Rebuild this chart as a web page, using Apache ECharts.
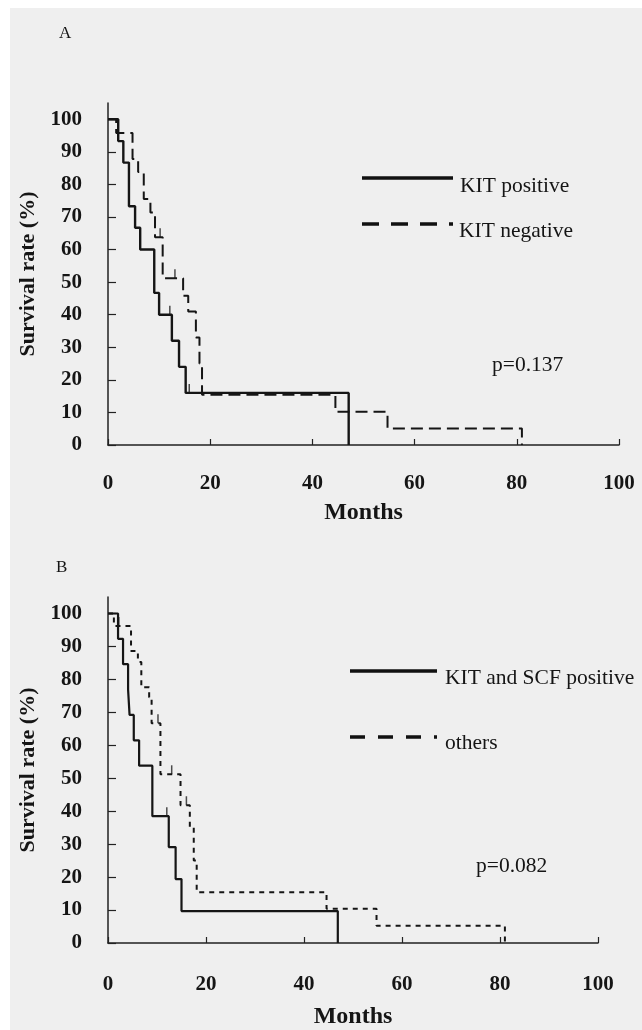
<!DOCTYPE html>
<html>
<head>
<meta charset="utf-8">
<script src="https://cdn.jsdelivr.net/npm/echarts@6/dist/echarts.min.js"></script>
<style>
  html, body { margin: 0; padding: 0; background: #ffffff; }
  #bg { position: absolute; left: 10px; top: 8px; width: 632px; height: 1022px; background: #efefef; }
  #main { position: absolute; left: 0; top: 0; width: 642px; height: 1030px; }
</style>
</head>
<body>
<div id="bg"></div>
<div id="main"></div>
<script>
// tick labels
var xTicks = [0, 20, 40, 60, 80, 100];
var yTicks = [0, 10, 20, 30, 40, 50, 60, 70, 80, 90, 100];

// panel A : KIT positive (solid)
var aPosMonths = [0, 2.0, 3.0, 4.1, 5.3, 6.3, 9.05, 10.0, 12.5, 13.9, 15.2, 47.1];
var aPosRate = [100, 93.3, 86.7, 73.3, 66.7, 60, 46.7, 40, 32, 24, 16, 0];
var aPosCensorMonths = [12.1, 15.9];
var aPosCensorRate = [40, 16];

// panel A : KIT negative (dashed)
var aNegMonths = [0, 1.6, 4.8, 5.9, 7.0, 8.3, 9.2, 10.7, 14.7, 15.7, 17.2, 17.9, 18.4, 44.5, 54.7, 81];
var aNegRate = [100, 95.8, 87.8, 83.8, 75.5, 71.4, 63.8, 51.2, 45.8, 41, 33, 25, 15.4, 10.2, 5.1, 0];
var aNegCensorMonths = [10.2, 13.1];
var aNegCensorRate = [63.8, 51.2];

// panel B : KIT and SCF positive (solid)
var bPosMonths = [0, 2.05, 3.07, 4.1, 4.4, 5.26, 6.35, 9.05, 12.4, 13.8, 15.0, 46.9];
var bPosRate = [100, 92.3, 84.6, 76.9, 69.2, 61.5, 53.8, 38.5, 29.1, 19.4, 9.7, 0];
var bPosCensorMonths = [12.0];
var bPosCensorRate = [38.5];

// panel B : others (dotted)
var bOthMonths = [0, 1.2, 4.7, 6.1, 6.8, 8.4, 8.9, 10.7, 14.8, 16.7, 17.5, 18.1, 44.6, 54.8, 81];
var bOthRate = [100, 96.2, 88.6, 85.3, 77.6, 74.6, 66.7, 51.2, 41.8, 35, 25, 15.4, 10.4, 5.2, 0];
var bOthCensorMonths = [2.2, 10.2, 13.0, 16.0];
var bOthCensorRate = [96.2, 66.7, 51.2, 41.8];

var serif = '"Liberation Serif", "DejaVu Serif", serif';
var ink = '#151515';

function pairs(xs, ys) {
  var out = [];
  for (var i = 0; i < xs.length; i++) {
    out.push([xs[i], ys[i]]);
  }
  return out;
}

function xAxisFor(grid, gap, margin) {
  return {
    type: 'value', gridIndex: grid, min: 0, max: 100, interval: 20,
    name: 'Months', nameLocation: 'middle', nameGap: gap,
    nameTextStyle: { fontFamily: serif, fontWeight: 'bold', fontSize: 24, color: ink },
    axisLine: { lineStyle: { color: '#222', width: 1.5 } },
    axisTick: { inside: true, length: 6, customValues: xTicks, lineStyle: { color: '#222', width: 1.2 } },
    axisLabel: { fontFamily: serif, fontWeight: 'bold', fontSize: 21, color: ink, margin: margin, customValues: xTicks },
    splitLine: { show: false }
  };
}

function yAxisFor(grid) {
  return {
    type: 'value', gridIndex: grid, min: 0, max: 105,
    name: 'Survival rate (%)', nameLocation: 'middle', nameGap: 65,
    nameTextStyle: { fontFamily: serif, fontWeight: 'bold', fontSize: 22, color: ink },
    axisLine: { lineStyle: { color: '#222', width: 1.5 } },
    axisTick: { inside: true, length: 8, customValues: yTicks, lineStyle: { color: '#222', width: 1.2 } },
    axisLabel: { fontFamily: serif, fontWeight: 'bold', fontSize: 21, color: ink, margin: 26, customValues: yTicks },
    splitLine: { show: false }
  };
}

function kmLine(idx, xs, ys, dash, width) {
  return {
    type: 'line', xAxisIndex: idx, yAxisIndex: idx, step: 'end',
    showSymbol: false, silent: true,
    lineStyle: { color: ink, width: width, type: dash },
    data: pairs(xs, ys)
  };
}

function censor(idx, xs, ys) {
  return {
    type: 'scatter', xAxisIndex: idx, yAxisIndex: idx, silent: true,
    symbol: 'rect', symbolSize: [1.5, 9], symbolOffset: [0, -4.5],
    itemStyle: { color: '#222' },
    data: pairs(xs, ys)
  };
}

function label(x, y, str, size) {
  return {
    type: 'text', x: x, y: y,
    style: { text: str, fill: ink, font: size + 'px ' + serif, verticalAlign: 'middle' }
  };
}

function legendLine(x1, x2, y, dash) {
  return {
    type: 'line',
    shape: { x1: x1, y1: y, x2: x2, y2: y },
    style: { stroke: '#111', lineWidth: 3.5, lineDash: dash }
  };
}

var chart = echarts.init(document.getElementById('main'), null, { renderer: 'canvas' });

var option = {
  animation: false,
  backgroundColor: 'transparent',
  grid: [
    { left: 108, top: 103, width: 511, height: 342 },
    { left: 108, top: 597, width: 490, height: 351 }
  ],
  xAxis: [xAxisFor(0, 56, 28), xAxisFor(1, 62, 31)],
  yAxis: [yAxisFor(0), yAxisFor(1)],
  series: [
    kmLine(0, aPosMonths, aPosRate, 'solid', 2.4),
    kmLine(0, aNegMonths, aNegRate, [12, 6], 2),
    censor(0, aPosCensorMonths, aPosCensorRate),
    censor(0, aNegCensorMonths, aNegCensorRate),
    kmLine(1, bPosMonths, bPosRate, 'solid', 2.2),
    kmLine(1, bOthMonths, bOthRate, [5, 5], 2),
    censor(1, bPosCensorMonths, bPosCensorRate),
    censor(1, bOthCensorMonths, bOthCensorRate)
  ],
  graphic: [
    label(59, 34, 'A', 17),
    label(56, 568, 'B', 17),
    legendLine(362, 453, 178, null),
    legendLine(362, 453, 224, [17, 12]),
    label(460, 186, 'KIT positive', 21.5),
    label(459, 231, 'KIT negative', 21.5),
    label(492, 365, 'p=0.137', 21.5),
    legendLine(350, 437, 671, null),
    legendLine(350, 437, 737, [15, 13]),
    label(445, 678, 'KIT and SCF positive', 21.5),
    label(445, 743, 'others', 21.5),
    label(476, 866, 'p=0.082', 21.5)
  ]
};

chart.setOption(option);
</script>
</body>
</html>
